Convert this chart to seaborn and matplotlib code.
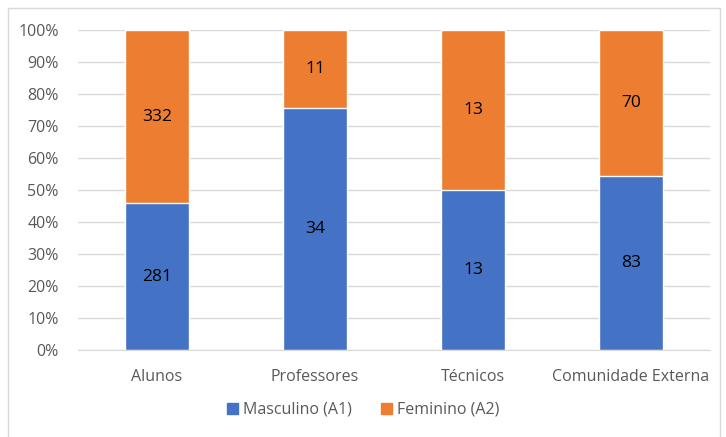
import matplotlib.pyplot as plt
import matplotlib.patches as mpatches
import pandas as pd
import seaborn as sns
from matplotlib.ticker import PercentFormatter

categories = ['Alunos', 'Professores', 'Técnicos', 'Comunidade Externa']
masculino = [281, 34, 13, 83]
feminino = [332, 11, 13, 70]

sns.set_style('white')
plt.rcParams['font.family'] = ['Open Sans', 'DejaVu Sans']

blue = '#4472C4'
orange = '#ED7D31'
gray = '#595959'

df = pd.DataFrame({'Categoria': categories, 'Masculino (A1)': masculino, 'Feminino (A2)': feminino})
df['total'] = df['Masculino (A1)'] + df['Feminino (A2)']
df['m_pct'] = df['Masculino (A1)'] / df['total']
df['top'] = 1.0

fig = plt.figure(figsize=(7.26, 4.37), dpi=100)
ax = fig.add_axes([78 / 726, 1 - 350 / 437, 632 / 726, 320 / 437])

# full-height orange bars, blue on top of them
sns.barplot(data=df, x='Categoria', y='top', color=orange, width=0.4, ax=ax, saturation=1)
sns.barplot(data=df, x='Categoria', y='m_pct', color=blue, width=0.4, ax=ax, saturation=1)

for i, row in df.iterrows():
    ax.text(i, row['m_pct'] / 2, str(row['Masculino (A1)']), ha='center', va='center', fontsize=12.5, color='black')
    ax.text(i, row['m_pct'] + (1 - row['m_pct']) / 2, str(row['Feminino (A2)']), ha='center', va='center',
            fontsize=12.5, color='black')

ax.set_ylim(0, 1)
ax.set_xlim(-0.5, 3.5)
ax.set_yticks([i / 10 for i in range(11)])
ax.yaxis.set_major_formatter(PercentFormatter(1.0, decimals=0))
ax.yaxis.grid(True, color='#D9D9D9', linewidth=1)
ax.set_axisbelow(True)
ax.set_xlabel('')
ax.set_ylabel('')
for s in ['top', 'right', 'left']:
    ax.spines[s].set_visible(False)
ax.spines['bottom'].set_color('#D9D9D9')
ax.tick_params(axis='both', length=0, labelsize=11.5, labelcolor=gray)
ax.tick_params(axis='x', pad=14)
ax.tick_params(axis='y', pad=14)

handles = [mpatches.Patch(color=blue, label='Masculino (A1)'),
           mpatches.Patch(color=orange, label='Feminino (A2)')]
leg = fig.legend(handles=handles, loc='center', bbox_to_anchor=(0.5, 1 - 410 / 437), ncol=2, frameon=False,
                 fontsize=11.5, handlelength=0.7, handleheight=0.7, handletextpad=0.3, columnspacing=1.8)
for t in leg.get_texts():
    t.set_color(gray)

border = mpatches.Rectangle((8 / 726, -0.05), 712 / 726, 1 - 8 / 437 + 0.05, transform=fig.transFigure,
                            fill=False, edgecolor='#D9D9D9', linewidth=1)
fig.patches.append(border)

fig.savefig('out.png', dpi=100)
